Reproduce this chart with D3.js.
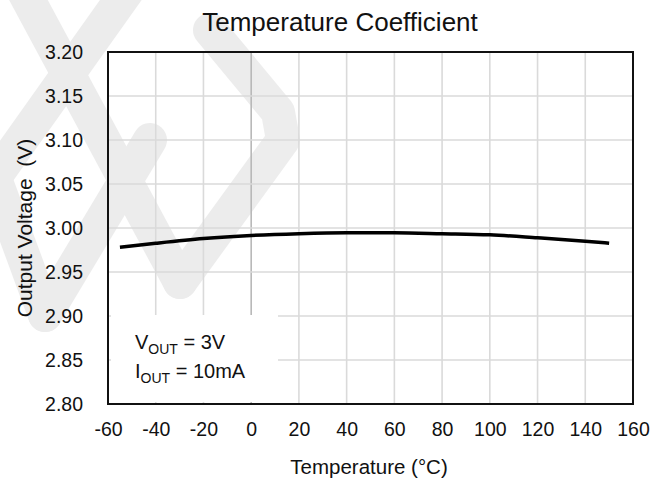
<!DOCTYPE html>
<html>
<head>
<meta charset="utf-8">
<script src="https://cdn.jsdelivr.net/npm/d3@7"></script>
<style>
  body { margin: 0; background: #fff; }
  text { font-family: "Liberation Sans", Arial, sans-serif; fill: #111; }
</style>
</head>
<body>
<div id="chart"></div>
<script>

var temps = [-55, -40, -20, 0, 20, 40, 60, 80, 100, 120, 140, 150]
var vout = [2.978, 2.9826, 2.988, 2.9915, 2.9935, 2.9945, 2.9945, 2.9935, 2.9922, 2.9888, 2.985, 2.9828]
var xTicks = [-60, -40, -20, 0, 20, 40, 60, 80, 100, 120, 140, 160]
var yTicks = [2.80, 2.85, 2.90, 2.95, 3.00, 3.05, 3.10, 3.15, 3.20]

var width = 667
var height = 480
var pLeft = 108, pRight = 633, pTop = 52, pBottom = 404

var svg = d3.select('div#chart')
  .append('svg')
  .attr('width', width)
  .attr('height', height)

var xScale = d3.scaleLinear().domain([-60, 160]).range([pLeft, pRight])
var yScale = d3.scaleLinear().domain([2.80, 3.20]).range([pBottom, pTop])

// faint logo watermark behind everything
var wm = svg.append('g')
  .attr('opacity', 0.07)
  .attr('fill', 'none')
  .attr('stroke', '#000')
  .attr('stroke-width', 34)
  .attr('stroke-linecap', 'round')
  .attr('stroke-linejoin', 'round')

var marks = [
  [[15, -25], [180, 282]],
  [[180, 282], [283, 140], [278, 112], [210, 30]],
  [[135, -20], [0, 170]],
  [[-10, 165], [45, 315]],
  [[150, 140], [45, 315]]
]
marks.forEach(function(m) {
  wm.append('path').attr('d', d3.line()(m))
})

// grid
svg.append('g')
  .selectAll('line')
  .data(xTicks.slice(1, -1))
  .enter().append('line')
  .attr('x1', function(d) { return xScale(d) })
  .attr('x2', function(d) { return xScale(d) })
  .attr('y1', pTop)
  .attr('y2', pBottom)
  .attr('stroke', function(d) { return d === 0 ? '#b8b8b8' : '#dadada' })
  .attr('stroke-width', 1.6)

svg.append('g')
  .selectAll('line')
  .data(yTicks.slice(1, -1))
  .enter().append('line')
  .attr('x1', pLeft)
  .attr('x2', pRight)
  .attr('y1', function(d) { return yScale(d) })
  .attr('y2', function(d) { return yScale(d) })
  .attr('stroke', '#dadada')
  .attr('stroke-width', 1.6)

// legend box covers the grid
svg.append('rect')
  .attr('x', pLeft + 3)
  .attr('y', yScale(2.90) - 1)
  .attr('width', 167)
  .attr('height', pBottom - yScale(2.90) - 1)
  .attr('fill', '#fff')

var leg = svg.append('g').attr('font-size', 20)
var l1 = leg.append('text').attr('x', 135).attr('y', 349)
l1.append('tspan').text('V')
l1.append('tspan').attr('font-size', 14).attr('dy', 5).text('OUT')
l1.append('tspan').attr('dy', -5).text(' = 3V')
var l2 = leg.append('text').attr('x', 135).attr('y', 378)
l2.append('tspan').text('I')
l2.append('tspan').attr('font-size', 14).attr('dy', 5).text('OUT')
l2.append('tspan').attr('dy', -5).text(' = 10mA')

// curve
var line = d3.line()
  .x(function(d) { return xScale(d[0]) })
  .y(function(d) { return yScale(d[1]) })
  .curve(d3.curveMonotoneX)

svg.append('path')
  .datum(d3.zip(temps, vout))
  .attr('d', line)
  .attr('fill', 'none')
  .attr('stroke', '#000')
  .attr('stroke-width', 3.5)

// frame
svg.append('rect')
  .attr('x', pLeft)
  .attr('y', pTop)
  .attr('width', pRight - pLeft)
  .attr('height', pBottom - pTop)
  .attr('fill', 'none')
  .attr('stroke', '#111')
  .attr('stroke-width', 2)

// axes
var xAxis = d3.axisBottom(xScale).tickValues(xTicks).tickSize(0).tickPadding(18)
  .tickFormat(function(d) { return String(d) })
svg.append('g')
  .attr('transform', 'translate(0,' + pBottom + ')')
  .call(xAxis)
  .call(function(g) { g.select('.domain').remove() })
  .selectAll('text')
  .attr('font-size', 19.5)
  .attr('fill', '#111')

var yAxis = d3.axisLeft(yScale).tickValues(yTicks).tickSize(0).tickPadding(25)
  .tickFormat(function(d) { return d.toFixed(2) })
svg.append('g')
  .attr('transform', 'translate(' + pLeft + ',0)')
  .call(yAxis)
  .call(function(g) { g.select('.domain').remove() })
  .selectAll('text')
  .attr('font-size', 19.5)
  .attr('fill', '#111')

svg.selectAll('.tick text').style('font-family', '"Liberation Sans", Arial, sans-serif')

// titles
svg.append('text')
  .attr('x', 340)
  .attr('y', 31)
  .attr('text-anchor', 'middle')
  .attr('font-size', 26)
  .text('Temperature Coefficient')

svg.append('text')
  .attr('x', 369)
  .attr('y', 474)
  .attr('text-anchor', 'middle')
  .attr('font-size', 20.5)
  .text('Temperature (°C)')

svg.append('text')
  .attr('transform', 'translate(32,' + (pTop + pBottom) / 2 + ') rotate(-90)')
  .attr('text-anchor', 'middle')
  .attr('font-size', 21)
  .style('white-space', 'pre')
  .text('Output Voltage  (V)')

</script>
</body>
</html>
